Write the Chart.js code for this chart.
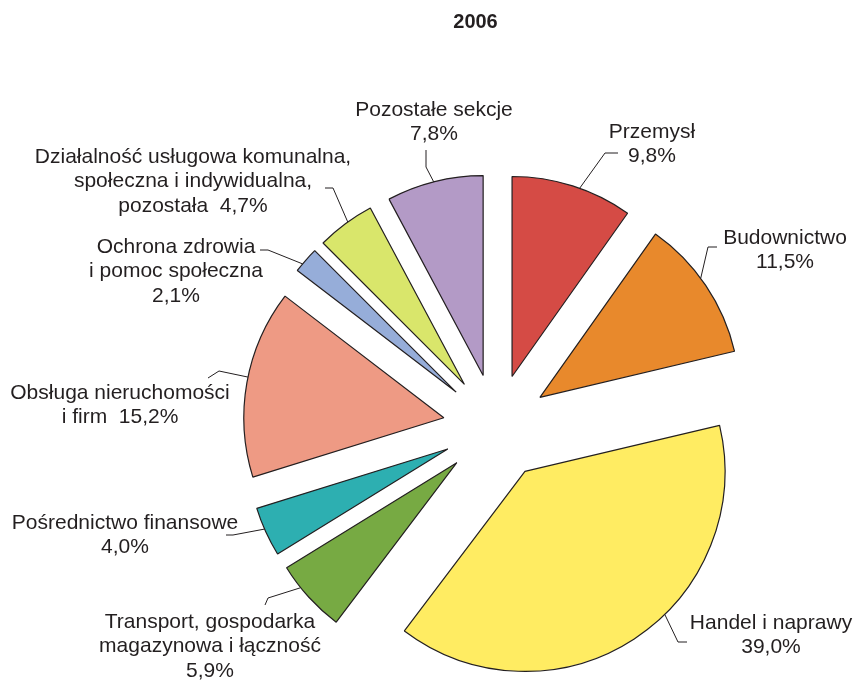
<!DOCTYPE html>
<html>
<head>
<meta charset="utf-8">
<script src="https://cdn.jsdelivr.net/npm/chart.js@4.4.1/dist/chart.umd.min.js"></script>
<style>
html,body{margin:0;padding:0;background:#ffffff;}
#wrap{width:858px;height:680px;position:relative;}
</style>
</head>
<body>
<div id="wrap"><canvas id="c" width="858" height="680"></canvas></div>
<script>
// ---- data ----
const chartTitle = "2006";
const categories = [
  ["Przemysł"],
  ["Budownictwo"],
  ["Handel i naprawy"],
  ["Transport, gospodarka", "magazynowa i łączność"],
  ["Pośrednictwo finansowe"],
  ["Obsługa nieruchomości", "i firm"],
  ["Ochrona zdrowia", "i pomoc społeczna"],
  ["Działalność usługowa komunalna,", "społeczna i indywidualna,", "pozostała"],
  ["Pozostałe sekcje"]
];
const shares = [9.8, 11.5, 39.0, 5.9, 4.0, 15.2, 2.1, 4.7, 7.8];

// ---- styles / layout ----
const sliceColors = ["#D54B45", "#E8892C", "#FFEC62", "#77AA43", "#2DAFB1", "#EE9A84", "#96ADD9", "#D9E66B", "#B39AC6"];
const inkColor = "#231F20";
const labelFont = "21px 'Liberation Sans', Arial, sans-serif";
const titleFont = "bold 20px 'Liberation Sans', Arial, sans-serif";
const lineGap = 24.5;
const explodeDist = 53;
// label block centre (x, first-line y), whether the value sits on last line,
// anchor fraction along the slice's outer arc, elbow and end of leader line
const labelLayout = [
  {x: 652, y: 132, inline: false, frac: 0.56, elbow: [605, 153], end: [618, 153]},
  {x: 785, y: 238, inline: false, frac: 0.44, elbow: [708, 247], end: [717, 247]},
  {x: 771, y: 623, inline: false, frac: 0.42, elbow: [678, 642], end: [687, 642]},
  {x: 210, y: 622, inline: false, frac: 0.67, elbow: [268, 598], end: [265, 605]},
  {x: 125, y: 523, inline: false, frac: 0.56, elbow: [233, 535], end: [226, 535]},
  {x: 120, y: 393, inline: true,  frac: 0.53, elbow: [219, 371], end: [208, 378]},
  {x: 176, y: 247, inline: false, frac: 0.32, elbow: [268, 250], end: [260, 250]},
  {x: 193, y: 157, inline: true,  frac: 0.55, elbow: [333, 188], end: [325, 188]},
  {x: 434, y: 110, inline: false, frac: 0.49, elbow: [426, 167], end: [426, 150]}
];

function fmtPct(v) { return v.toFixed(1).replace('.', ',') + '%'; }

const explodePlugin = {
  id: 'explodeSlices',
  beforeDatasetsDraw(chart) {
    const meta = chart.getDatasetMeta(0);
    const ca = chart.chartArea;
    const cx = (ca.left + ca.right) / 2 + (meta.controller.offsetX || 0);
    const cy = (ca.top + ca.bottom) / 2 + (meta.controller.offsetY || 0);
    meta.data.forEach(arc => {
      const mid = (arc.startAngle + arc.endAngle) / 2;
      arc.x = cx + Math.cos(mid) * explodeDist;
      arc.y = cy + Math.sin(mid) * explodeDist;
    });
  }
};

const labelPlugin = {
  id: 'sliceLabels',
  afterDatasetsDraw(chart) {
    const ctx = chart.ctx;
    const meta = chart.getDatasetMeta(0);
    ctx.save();
    ctx.strokeStyle = inkColor;
    ctx.lineWidth = 1;
    ctx.fillStyle = inkColor;
    ctx.font = labelFont;
    ctx.textAlign = 'center';
    ctx.textBaseline = 'middle';
    meta.data.forEach((arc, i) => {
      const L = labelLayout[i];
      const a = arc.startAngle + L.frac * (arc.endAngle - arc.startAngle);
      const px = arc.x + Math.cos(a) * arc.outerRadius;
      const py = arc.y + Math.sin(a) * arc.outerRadius;
      ctx.beginPath();
      ctx.moveTo(px, py);
      ctx.lineTo(L.elbow[0], L.elbow[1]);
      ctx.lineTo(L.end[0], L.end[1]);
      ctx.stroke();
      const lines = categories[i].slice();
      const pct = fmtPct(shares[i]);
      if (L.inline) lines[lines.length - 1] = lines[lines.length - 1] + '  ' + pct;
      else lines.push(pct);
      lines.forEach((t, k) => ctx.fillText(t, L.x, L.y + k * lineGap));
    });
    ctx.font = titleFont;
    ctx.fillText(chartTitle, 475.5, 22);
    ctx.restore();
  }
};

new Chart(document.getElementById('c'), {
  type: 'pie',
  data: {
    labels: categories.map(c => c.join(' ')),
    datasets: [{
      data: shares,
      backgroundColor: sliceColors,
      borderColor: inkColor,
      borderWidth: 1.2,
      clip: false
    }]
  },
  options: {
    responsive: false,
    animation: false,
    events: [],
    radius: 200,
    layout: {padding: {left: 134, right: 0, top: 174, bottom: 0}},
    plugins: {
      legend: {display: false},
      tooltip: {enabled: false},
      title: {display: false}
    }
  },
  plugins: [explodePlugin, labelPlugin]
});
</script>
</body>
</html>
